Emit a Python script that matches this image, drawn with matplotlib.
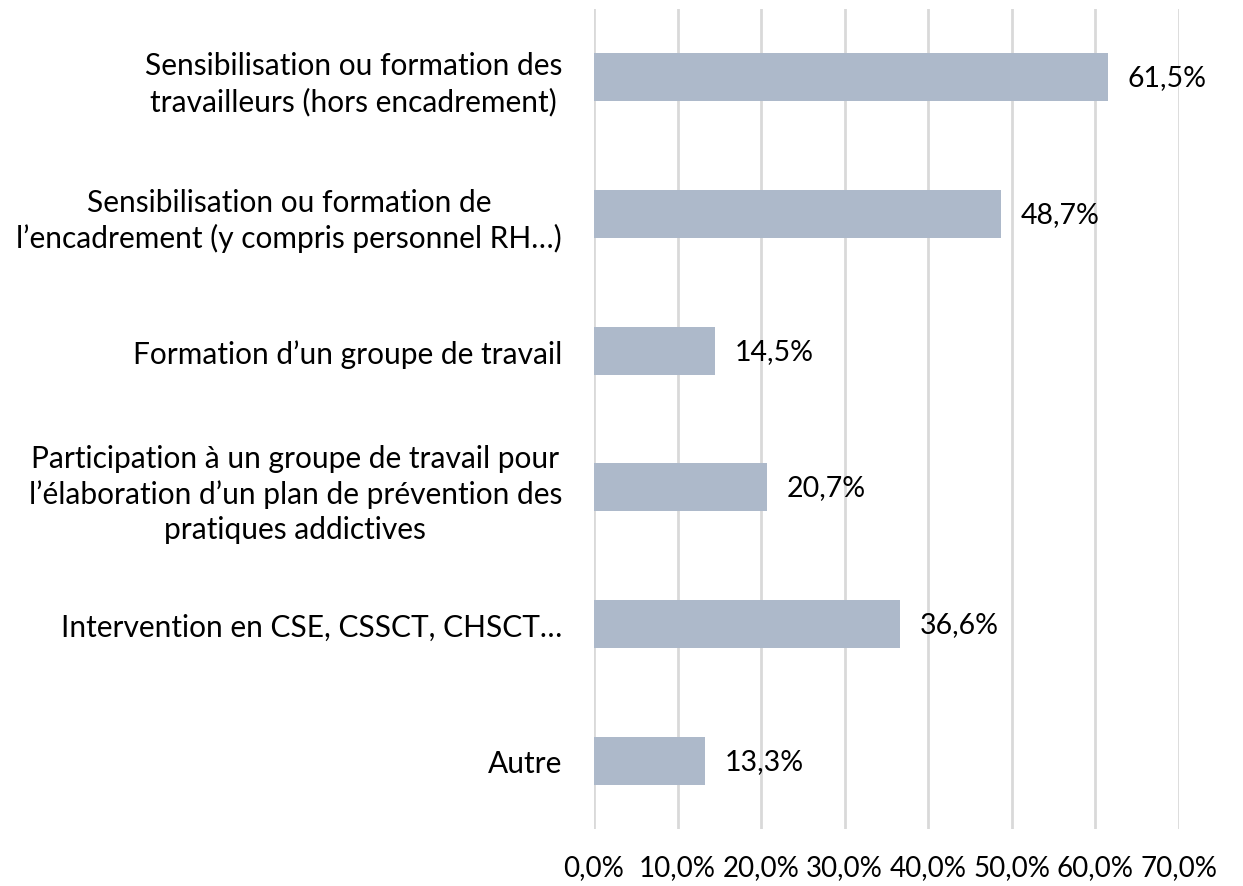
import matplotlib.pyplot as plt
from matplotlib.ticker import FuncFormatter

plt.rcParams['font.family'] = ['Lato', 'DejaVu Sans']

categories = [
    "Sensibilisation ou formation des\ntravailleurs (hors encadrement)",
    "Sensibilisation ou formation de\nl’encadrement (y compris personnel RH…)",
    "Formation d’un groupe de travail",
    "Participation à un groupe de travail pour\nl’élaboration d’un plan de prévention des\npratiques addictives",
    "Intervention en CSE, CSSCT, CHSCT…",
    "Autre",
]
values = [61.5, 48.7, 14.5, 20.7, 36.6, 13.3]
xticks = [0, 10, 20, 30, 40, 50, 60, 70]


def pct(v):
    return f"{v:.1f}%".replace('.', ',')


fig = plt.figure(figsize=(12.43, 8.87), dpi=100)
ax = fig.add_axes([594 / 1243, 1 - 830 / 887, (1179 - 594) / 1243, 820 / 887])

ypos = list(range(len(categories)))
ax.barh(ypos, values, height=0.35, color='#adb9ca', zorder=2)
for y, v in zip(ypos, values):
    ax.annotate(pct(v), (v, y), xytext=(14, 0), textcoords='offset points',
                va='center', ha='left', fontsize=20.5, color='black')

ax.set_xlim(0, 70)
ax.set_ylim(5.5, -0.5)
ax.set_xticks(xticks)
ax.xaxis.set_major_formatter(FuncFormatter(lambda x, p: pct(x)))
ax.set_yticks(ypos)
ax.set_yticklabels(categories, multialignment='center', linespacing=1.3)
ax.tick_params(axis='x', length=0, pad=18, labelsize=20, labelcolor='black')
ax.tick_params(axis='y', length=0, pad=23, labelsize=21.5, labelcolor='black')
ax.grid(axis='x', color='#d9d9d9', linewidth=2, zorder=0)
for s in ax.spines.values():
    s.set_visible(False)

fig.savefig('out.png', dpi=100)
